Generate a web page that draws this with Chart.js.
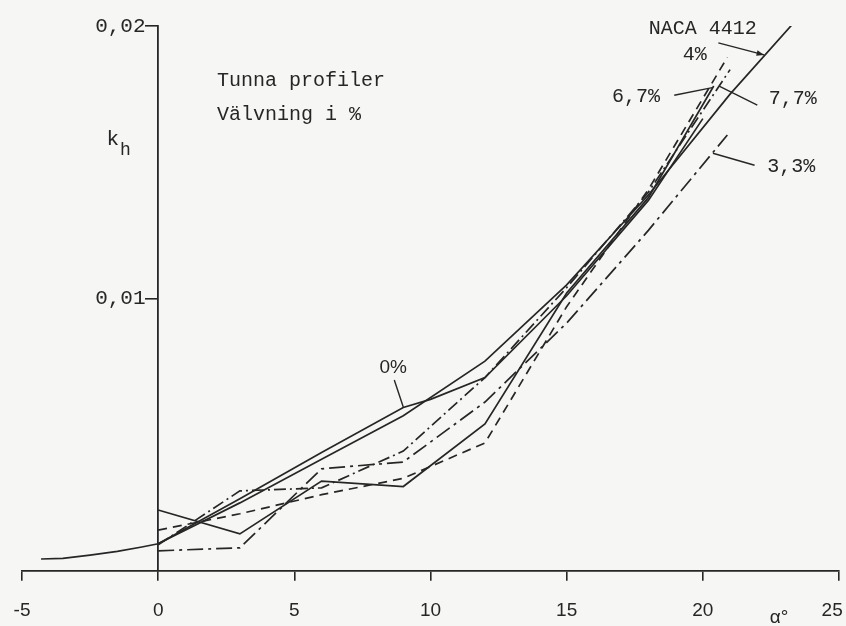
<!DOCTYPE html>
<html>
<head>
<meta charset="utf-8">
<script src="https://cdn.jsdelivr.net/npm/chart.js@4.4.1/dist/chart.umd.min.js"></script>
<style>
  html, body { margin: 0; background: #f6f6f4; }
  #wrap { width: 846px; height: 626px; }
</style>
</head>
<body>
<div id="wrap"><canvas id="chart"></canvas></div>
<script>
// k_h against angle of attack

const alphaNaca = [-4.3, -3.5, -2.5, -1.5, -0.6, 0, 3, 6, 9, 12, 15, 18, 21, 23.5];
const kNaca     = [0.00044, 0.00046, 0.00058, 0.00072, 0.00088, 0.0010, 0.0025, 0.0041, 0.0057, 0.0077, 0.0105, 0.0138, 0.0175, 0.0203];

const alpha0 = [0, 3, 6, 9, 10, 12, 15, 18, 20];
const k0     = [0.0010, 0.00265, 0.00435, 0.0060, 0.0063, 0.0071, 0.0101, 0.0136, 0.0166];

const alpha33 = [0, 3, 6, 9, 12, 15, 18, 20.9];
const k33     = [0.00074, 0.00085, 0.00375, 0.0040, 0.0062, 0.0091, 0.0125, 0.0160];

const alpha4 = [0, 3, 6, 9, 12, 15, 18, 20.9];
const k4     = [0.0015, 0.0021, 0.0028, 0.0034, 0.0047, 0.0097, 0.0140, 0.01885];

const alpha67 = [0, 3, 6, 9, 12, 15, 18, 21];
const k67     = [0.00096, 0.00294, 0.00305, 0.0044, 0.0071, 0.0104, 0.0139, 0.0184];

const alpha77 = [0, 3, 6, 9, 12, 15, 18, 20.4];
const k77     = [0.00224, 0.00136, 0.0033, 0.0031, 0.0054, 0.0102, 0.0137, 0.0178];

const xTicks = [-5, 0, 5, 10, 15, 20, 25];
const yTicks = [0, 0.01, 0.02];

// text labels in data units
const notes = [
  { text: "Tunna profiler", x: 2.16, y: 0.0180, font: "mono", align: "left" },
  { text: "Välvning i %",   x: 2.16, y: 0.01676, font: "mono", align: "left" },
  { text: "NACA 4412",      x: 20.0, y: 0.01989, font: "mono", align: "center" },
  { text: "4%",             x: 19.7, y: 0.01895, font: "mono", align: "center" },
  { text: "6,7%",           x: 17.55, y: 0.01739, font: "mono", align: "center" },
  { text: "7,7%",           x: 23.3,  y: 0.01732, font: "mono", align: "center" },
  { text: "3,3%",           x: 23.25, y: 0.01482, font: "mono", align: "center" },
  { text: "0%",             x: 8.63,  y: 0.00745, font: "sans", align: "center" },
  { text: "α°",             x: 22.8,  y: -0.0017, font: "sans", align: "center" },
  { text: "25",             x: 24.75, y: -0.00145, font: "sans", align: "center" }
];

// leader lines from labels to curves: [x1, y1, x2, y2]
const leaders = [
  [20.57, 0.01938, 22.25, 0.01894],
  [18.95, 0.01746, 20.35, 0.01774],
  [22.0, 0.01710, 20.6, 0.01779],
  [21.9, 0.01489, 20.37, 0.01533],
  [8.67, 0.00701, 9.0, 0.00602]
];

function pts(xs, ys) {
  return xs.map((x, i) => ({ x: x, y: ys[i] }));
}

const ink = "#262626";

function curve(label, xs, ys, dash) {
  return {
    label: label,
    data: pts(xs, ys),
    showLine: true,
    borderColor: ink,
    borderWidth: 1.7,
    borderDash: dash,
    pointRadius: 0,
    tension: 0,
    fill: false
  };
}

const notesPlugin = {
  id: "notes",
  afterDatasetsDraw(chart) {
    const ctx = chart.ctx;
    const sx = chart.scales.x, sy = chart.scales.y;
    ctx.save();
    ctx.fillStyle = ink;
    ctx.strokeStyle = ink;
    ctx.lineWidth = 1.4;
    ctx.textBaseline = "middle";
    notes.forEach(n => {
      ctx.font = n.font === "mono" ? "20px 'Liberation Mono'" : "19px 'Liberation Sans'";
      ctx.textAlign = n.align;
      ctx.fillText(n.text, sx.getPixelForValue(n.x), sy.getPixelForValue(n.y));
    });
    // k_h axis title
    ctx.font = "21px 'Liberation Mono'";
    ctx.textAlign = "left";
    ctx.fillText("k", sx.getPixelForValue(-1.9), sy.getPixelForValue(0.01585));
    ctx.font = "18px 'Liberation Mono'";
    ctx.fillText("h", sx.getPixelForValue(-1.4), sy.getPixelForValue(0.01545));
    leaders.forEach((l, i) => {
      const x1 = sx.getPixelForValue(l[0]), y1 = sy.getPixelForValue(l[1]);
      const x2 = sx.getPixelForValue(l[2]), y2 = sy.getPixelForValue(l[3]);
      ctx.beginPath();
      ctx.moveTo(x1, y1);
      ctx.lineTo(x2, y2);
      ctx.stroke();
      if (i === 0) {
        // small arrow head on the NACA pointer
        const a = Math.atan2(y2 - y1, x2 - x1);
        ctx.beginPath();
        ctx.moveTo(x2, y2);
        ctx.lineTo(x2 - 8 * Math.cos(a - 0.35), y2 - 8 * Math.sin(a - 0.35));
        ctx.lineTo(x2 - 8 * Math.cos(a + 0.35), y2 - 8 * Math.sin(a + 0.35));
        ctx.closePath();
        ctx.fill();
      }
    });
    ctx.restore();
  }
};

new Chart(document.getElementById("chart"), {
  type: "scatter",
  data: {
    datasets: [
      curve("NACA 4412", alphaNaca, kNaca, []),
      curve("0%", alpha0, k0, []),
      curve("3,3%", alpha33, k33, [16, 5, 3, 5]),
      curve("4%", alpha4, k4, [9, 6]),
      curve("6,7%", alpha67, k67, [12, 4, 2, 4]),
      curve("7,7%", alpha77, k77, [])
    ]
  },
  options: {
    responsive: true,
    maintainAspectRatio: false,
    animation: false,
    layout: { padding: { left: 22, right: 7, top: 26, bottom: 55 } },
    plugins: {
      legend: { display: false },
      tooltip: { enabled: false }
    },
    scales: {
      x: {
        type: "linear",
        position: { y: 0 },
        min: -5,
        max: 25,
        afterBuildTicks: axis => { axis.ticks = xTicks.map(v => ({ value: v })); },
        afterFit: axis => { axis.paddingLeft = 0; axis.paddingRight = 0; },
        ticks: {
          color: ink,
          font: { family: "'Liberation Sans'", size: 19 },
          padding: 19,
          // last label is drawn by the notes plugin, nudged inside the canvas
          callback: v => v === 25 ? "" : String(v)
        },
        grid: { drawOnChartArea: false, drawTicks: true, tickLength: 9, color: ink, lineWidth: 1.6 },
        border: { display: true, color: ink, width: 1.8 }
      },
      y: {
        type: "linear",
        position: { x: 0 },
        min: 0,
        max: 0.02,
        afterBuildTicks: axis => { axis.ticks = yTicks.map(v => ({ value: v })); },
        ticks: {
          color: ink,
          font: { family: "'Liberation Mono'", size: 21 },
          // trailing space keeps the label clear of the tick mark
          callback: v => v === 0 ? "" : v.toFixed(2).replace(".", ",") + " "
        },
        grid: {
          drawOnChartArea: false, drawTicks: true, tickLength: 12, lineWidth: 1.6,
          color: c => c.tick && c.tick.value === 0 ? "rgba(0,0,0,0)" : ink
        },
        border: { display: true, color: ink, width: 1.8 }
      }
    }
  },
  plugins: [notesPlugin]
});
</script>
</body>
</html>
